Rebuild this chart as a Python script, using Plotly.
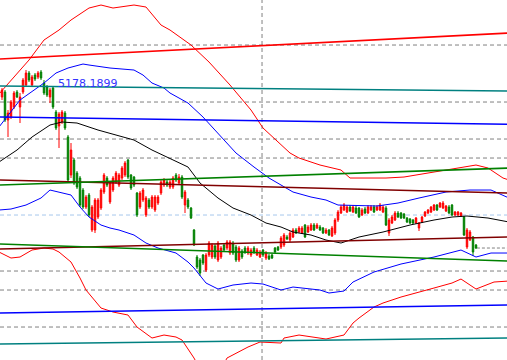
import plotly.graph_objects as go

# ---------------- candle data (price units) ----------------
bar_open = [5068,5118,4838,4868,4968,5118,4968,5118,5188,5308,5188,5288,5268,5318,5208,5168,5068,5158,4918,4778,
            4818,4908,4668,4288,4438,4308,4258,4138,3968,4088,3738,3738,3868,3958,4118,4258,4018,4138,4218,4188,
            4258,4288,4438,4288,4268,4108,3968,4038,3888,4038,3968,3938,4008,4108,4188,4218,4168,4168,4288,4208,
            4268,3988,4038,3958,3738,3468,3438,3488,3338,3488,3468,3578,3438,3468,3588,3558,3508,3608,3568,3438,
            3528,3558,3508,3488,3558,3488,3468,3538,3458,3478,3488,3558,3568,3568,3588,3668,3638,3668,3738,3718,
            3708,3788,3718,3738,3788,3758,3768,3758,3708,3738,3678,3708,3838,3908,3938,3918,3968,3918,3958,3958,
            3888,3948,3908,3938,3968,3938,3938,3918,3958,3708,3808,3838,3908,3908,3898,3858,3848,3838,3808,3758,
            3818,3878,3908,3918,3938,3988,3968,3958,3928,3968,3988,3888,3888,3878,3868,3568,3638,3668,3588]
bar_close = [5138,4838,4908,5018,5108,5068,5068,5238,5308,5238,5268,5248,5308,5258,5108,5088,5138,4968,4758,4898,
             4918,4758,4238,4538,4208,4168,3988,3968,4068,3888,3968,4038,4038,4138,4288,4188,4208,4258,4308,4288,
             4358,4408,4268,4158,4188,3888,4108,4138,4058,3968,4068,4068,4068,4218,4238,4188,4218,4258,4238,4268,
             4068,4118,3968,3858,3588,3368,3308,3408,3488,3608,3588,3468,3608,3558,3538,3618,3618,3508,3438,3558,
             3468,3518,3558,3538,3518,3538,3518,3488,3508,3448,3458,3518,3538,3658,3688,3648,3708,3738,3708,3758,
             3758,3668,3768,3788,3738,3788,3738,3708,3738,3688,3758,3838,3918,3968,3988,3968,3928,3968,3908,3868,
             3938,3908,3968,3968,3918,3968,3988,3968,3788,3838,3868,3908,3868,3858,3858,3818,3808,3808,3858,3808,
             3868,3918,3938,3968,3988,3938,4008,4008,3978,3908,3888,3918,3918,3908,3688,3738,3718,3518,3558]
bar_high = [5158,5138,4938,5038,5128,5138,5108,5258,5338,5328,5288,5308,5328,5338,5238,5188,5158,5178,4938,4918,
            4938,4928,4688,4608,4458,4328,4278,4158,4088,4108,3988,4058,4058,4158,4308,4278,4228,4278,4328,4308,
            4378,4428,4448,4298,4278,4118,4128,4158,4078,4058,4088,4088,4088,4238,4258,4238,4238,4278,4308,4298,
            4288,4138,4058,3968,3748,3488,3458,3498,3508,3628,3608,3598,3628,3578,3608,3638,3638,3628,3588,3578,
            3548,3578,3578,3558,3578,3558,3538,3548,3528,3498,3498,3568,3578,3678,3708,3688,3728,3758,3758,3778,
            3778,3798,3788,3808,3808,3808,3788,3768,3758,3748,3778,3858,3938,3988,4008,3988,3988,3988,3978,3968,
            3958,3968,3988,3988,3988,3988,4008,3988,3978,3858,3888,3928,3928,3918,3908,3868,3858,3848,3868,3818,
            3878,3928,3948,3978,3998,3998,4018,4028,3988,3988,3998,3928,3928,3918,3878,3758,3738,3678,3598]
bar_low = [5038,4818,4668,4848,4948,5058,4808,5098,5168,5218,5168,5228,5248,5238,5088,5068,5008,4948,4738,4558,
           4798,4738,4218,4258,4188,4148,3968,3948,3948,3868,3718,3708,3848,3938,4098,4168,3998,4118,4198,4168,
           4238,4268,4248,4138,4168,3868,3948,4018,3868,3948,3948,3918,3988,4088,4168,4168,4148,4148,4218,4188,
           4048,3908,3948,3848,3578,3348,3278,3388,3318,3468,3448,3448,3418,3448,3518,3538,3488,3488,3418,3418,
           3448,3498,3488,3468,3498,3478,3458,3468,3438,3438,3448,3508,3528,3548,3568,3638,3618,3658,3698,3708,
           3698,3658,3708,3728,3728,3748,3728,3698,3698,3678,3668,3688,3818,3898,3928,3908,3918,3908,3898,3858,
           3878,3898,3898,3928,3908,3928,3928,3908,3778,3678,3798,3828,3858,3848,3848,3808,3798,3798,3798,3728,
           3808,3868,3898,3908,3928,3928,3958,3948,3918,3898,3878,3878,3878,3868,3678,3548,3628,3478,3548]
bar_index = list(range(len(bar_close)))

# ---------------- indicator curves (bar index, price) ----------------
env_up_x = [-1,3,6,9,14,19,23,29,33,37,44,48,53,56,63,69,76,83,87,93,96,99,106,113,116,128,134,148,158,162,167,169]
env_up_y = [5098,5238,5338,5438,5638,5738,5838,5958,5988,5958,5988,5968,5788,5738,5588,5418,5188,4938,4758,4588,
            4508,4458,4388,4338,4258,4258,4268,4338,4388,4358,4258,4238]
env_lo_x = [-1,3,6,10,14,17,19,23,26,28,33,37,42,45,50,54,58,60,64,68,72,75,82,86,93,94,99,108,114,117,119,124,127,
            133,144,150,153,158,164,169]
env_lo_y = [3518,3458,3468,3538,3558,3548,3518,3418,3258,3138,2958,2918,2888,2768,2658,2688,2668,2638,2458,2238,
            2288,2458,2568,2618,2608,2658,2688,2648,2688,2808,2858,2968,3008,3068,3158,3208,3248,3148,3218,3228]
bb_up_x = [-1,6,14,18,22,27,29,36,44,47,50,54,56,62,67,73,78,84,89,97,103,108,112,125,132,139,148,156,163,169]
bb_up_y = [4768,5038,5208,5308,5358,5398,5388,5358,5338,5288,5208,5158,5108,5008,4868,4668,4508,4368,4258,4118,
           4068,4038,3988,3978,4008,4058,4118,4138,4138,4058]
bb_lo_x = [-1,3,8,13,16,19,23,26,29,33,36,39,44,48,52,58,62,64,68,72,77,83,87,93,97,106,109,114,117,124,133,144,
           153,158,163,169]
bb_lo_y = [3938,3948,3988,4058,4138,4118,4088,3968,3868,3788,3758,3738,3688,3608,3558,3508,3418,3358,3208,3148,
           3188,3208,3198,3138,3168,3138,3108,3128,3218,3318,3398,3468,3538,3468,3508,3508]
ma_x = [-1,5,10,16,20,25,32,38,44,50,55,62,66,72,77,83,88,93,97,103,108,113,116,119,127,136,144,150,155,162,169]
ma_y = [4418,4538,4668,4788,4818,4808,4738,4688,4638,4538,4468,4368,4208,4058,3958,3888,3808,3768,3718,3688,3638,
        3608,3638,3668,3718,3788,3838,3868,3878,3858,3818]

# ---------------- trend lines: (start price, end price) over bars -1 .. 169 ----------------
trend_x = [-1, 169]
trend_red = [5448, 5708]
trend_teal = [5178.19, 5128]
trend_blue = [4868, 4795]
trend_maroon_hi = [4238, 4108]
trend_green_hi = [4188, 4358]
trend_maroon_lo = [3548, 3668]
trend_green_lo = [3598, 3428]
trend_blue_lo = [2908, 2988]
trend_teal_lo = [2598, 2658]

# horizontal levels
gray_levels = [5588, 5018, 4648, 4458, 3328, 3138, 2768]
blue_level = 3888
vline_bar = 86.67
label_text = "5178.1899"
label_bar = 18
label_price = 5203

fig = go.Figure()

def add_line(xs, ys, color, width):
    fig.add_trace(go.Scatter(x=xs, y=ys, mode="lines", line=dict(color=color, width=width),
                             hoverinfo="skip", showlegend=False))

add_line(env_up_x, env_up_y, "#ff0000", 1)
add_line(env_lo_x, env_lo_y, "#ff0000", 1)
add_line(bb_up_x, bb_up_y, "#0000ff", 1)
add_line(bb_lo_x, bb_lo_y, "#0000ff", 1)
add_line(ma_x, ma_y, "#000000", 1)

for ys, col in [(trend_red, "#ff0000"), (trend_teal, "#008080"), (trend_blue, "#0000ff"),
                (trend_maroon_hi, "#800000"), (trend_green_hi, "#008000"),
                (trend_maroon_lo, "#800000"), (trend_green_lo, "#008000"),
                (trend_blue_lo, "#0000ff"), (trend_teal_lo, "#008080")]:
    add_line(trend_x, ys, col, 1.6)

fig.add_trace(go.Candlestick(
    x=bar_index, open=bar_open, high=bar_high, low=bar_low, close=bar_close,
    increasing=dict(line=dict(color="#ff0000", width=1), fillcolor="#ff0000"),
    decreasing=dict(line=dict(color="#008000", width=1), fillcolor="#008000"),
    whiskerwidth=0, showlegend=False, hoverinfo="skip"))

shapes = []
for p in gray_levels:
    shapes.append(dict(type="line", xref="paper", x0=0, x1=1, y0=p, y1=p, layer="below",
                       line=dict(color="#808080", width=1, dash="4px,3px")))
shapes.append(dict(type="line", xref="paper", x0=0, x1=1, y0=blue_level, y1=blue_level, layer="below",
                   line=dict(color="#a6c8ec", width=1, dash="4px,3px")))
shapes.append(dict(type="line", yref="paper", x0=vline_bar, x1=vline_bar, y0=0, y1=1, layer="below",
                   line=dict(color="#808080", width=1, dash="4px,3px")))
shapes.append(dict(type="line", x0=len(bar_close) - 0.7, x1=170, y0=bar_close[-1], y1=bar_close[-1],
                   layer="below", line=dict(color="#808080", width=1, dash="3px,2px")))

fig.update_layout(
    width=507, height=360, margin=dict(l=0, r=0, t=0, b=0),
    paper_bgcolor="white", plot_bgcolor="white", showlegend=False, hovermode=False,
    shapes=shapes,
    xaxis=dict(range=[-0.667, 168.33], visible=False, rangeslider=dict(visible=False), fixedrange=True),
    yaxis=dict(range=[2438.19, 6038.19], visible=False, fixedrange=True),
    annotations=[dict(x=label_bar, y=label_price, xanchor="left", yanchor="middle", text=label_text,
                      showarrow=False, font=dict(family="DejaVu Sans", size=11, color="#3333ff"))],
)

fig.write_html("out.html", config={"displayModeBar": False, "staticPlot": True},
               post_script="document.body.style.margin='0';document.body.style.padding='0';")
